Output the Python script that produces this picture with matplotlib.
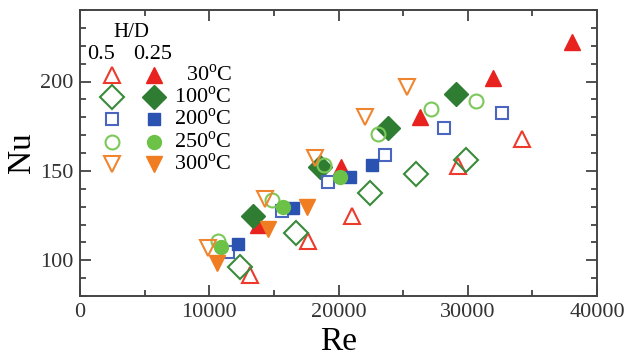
import matplotlib
matplotlib.use("Agg")
import matplotlib.pyplot as plt
from matplotlib.ticker import MultipleLocator

plt.rcParams['font.family'] = ['Liberation Serif', 'DejaVu Serif']
plt.rcParams['mathtext.fontset'] = 'custom'
plt.rcParams['mathtext.rm'] = 'Liberation Serif'

temps = ['30', '100', '200', '250', '300']

# H/D = 0.5 (open markers)
re_30_05 = [13150, 17640, 21040, 29250, 34200]
nu_30_05 = [92, 110.5, 124.5, 152.5, 168]
re_100_05 = [12380, 16710, 22440, 26000, 29870]
nu_100_05 = [96.5, 115, 137.5, 148, 156]
re_200_05 = [11450, 15630, 19190, 23600, 28160, 32650]
nu_200_05 = [104.5, 127.5, 143.5, 159, 174, 182.5]
re_250_05 = [10700, 14850, 18900, 23060, 27160, 30640]
nu_250_05 = [111, 133.5, 153.5, 170.5, 184.5, 189]
re_300_05 = [9900, 14330, 18180, 22050, 25300]
nu_300_05 = [107, 134.5, 157, 180, 197]

# H/D = 0.25 (filled markers)
re_30_025 = [13770, 20200, 26300, 31950, 38070]
nu_30_025 = [120, 152, 180, 202, 222]
re_100_025 = [13380, 18570, 23830, 29100]
nu_100_025 = [125, 152, 174, 193]
re_200_025 = [12220, 16480, 20890, 22590]
nu_200_025 = [109, 129, 146.5, 153.5]
re_250_025 = [10910, 15700, 20120]
nu_250_025 = [107.5, 130, 146.5]
re_300_025 = [10600, 14540, 17560]
nu_300_025 = [98.5, 117.5, 130]

open_re = [re_30_05, re_100_05, re_200_05, re_250_05, re_300_05]
open_nu = [nu_30_05, nu_100_05, nu_200_05, nu_250_05, nu_300_05]
fill_re = [re_30_025, re_100_025, re_200_025, re_250_025, re_300_025]
fill_nu = [nu_30_025, nu_100_025, nu_200_025, nu_250_025, nu_300_025]

colors = ['#e8231f', '#2f7d32', '#2a52b0', '#6cc246', '#f07d22']
open_colors = ['#ee3a2c', '#3a8a3c', '#4a66c0', '#7cc85a', '#f08530']
markers = ['^', 'D', 's', 'o', 'v']
msizes = [12, 12, 9, 10, 12]

fig = plt.figure(figsize=(6.26, 3.6), dpi=100)
ax = fig.add_axes([80/626, 1-296/360, 517/626, 286/360])

for i in range(5):
    ax.plot(open_re[i], open_nu[i], linestyle='none', marker=markers[i],
            ms=msizes[i], mfc='none', mec=open_colors[i], mew=1.5)
    ax.plot(fill_re[i], fill_nu[i], linestyle='none', marker=markers[i],
            ms=msizes[i], mfc=colors[i], mec=colors[i], mew=1.0)

ax.set_xlim(0, 40000)
ax.set_ylim(80, 240)
ax.xaxis.set_major_locator(MultipleLocator(10000))
ax.xaxis.set_minor_locator(MultipleLocator(5000))
ax.yaxis.set_major_locator(MultipleLocator(50))
ax.yaxis.set_minor_locator(MultipleLocator(10))
ax.tick_params(which='both', direction='in', top=True, right=True,
               colors='#333333', labelsize=16, width=1.2)
ax.tick_params(which='major', length=8, pad=5)
ax.tick_params(which='minor', length=4)
for s in ax.spines.values():
    s.set_linewidth(1.4)
    s.set_color('#444444')
ax.set_xlabel('Re', fontsize=24, labelpad=3)
ax.set_ylabel('Nu', fontsize=24, labelpad=2)

# legend block
tr = ax.transAxes
ax.text(0.10, 0.923, 'H/D', transform=tr, fontsize=15, ha='center', va='center')
ax.text(0.041, 0.843, '0.5', transform=tr, fontsize=16, ha='center', va='center')
ax.text(0.141, 0.843, '0.25', transform=tr, fontsize=16, ha='center', va='center')
rows = [0.773, 0.696, 0.619, 0.538, 0.462]
for i in range(5):
    ax.plot([0.062], [rows[i]], transform=tr, marker=markers[i], ms=msizes[i],
            mfc='none', mec=open_colors[i], mew=1.5, clip_on=False)
    ax.plot([0.143], [rows[i]], transform=tr, marker=markers[i], ms=msizes[i],
            mfc=colors[i], mec=colors[i], mew=1.0, clip_on=False)
    ax.text(0.294, rows[i], temps[i] + r'$^{\mathrm{o}}$C', transform=tr,
            fontsize=16, ha='right', va='center')

fig.savefig('out.png', dpi=100)
